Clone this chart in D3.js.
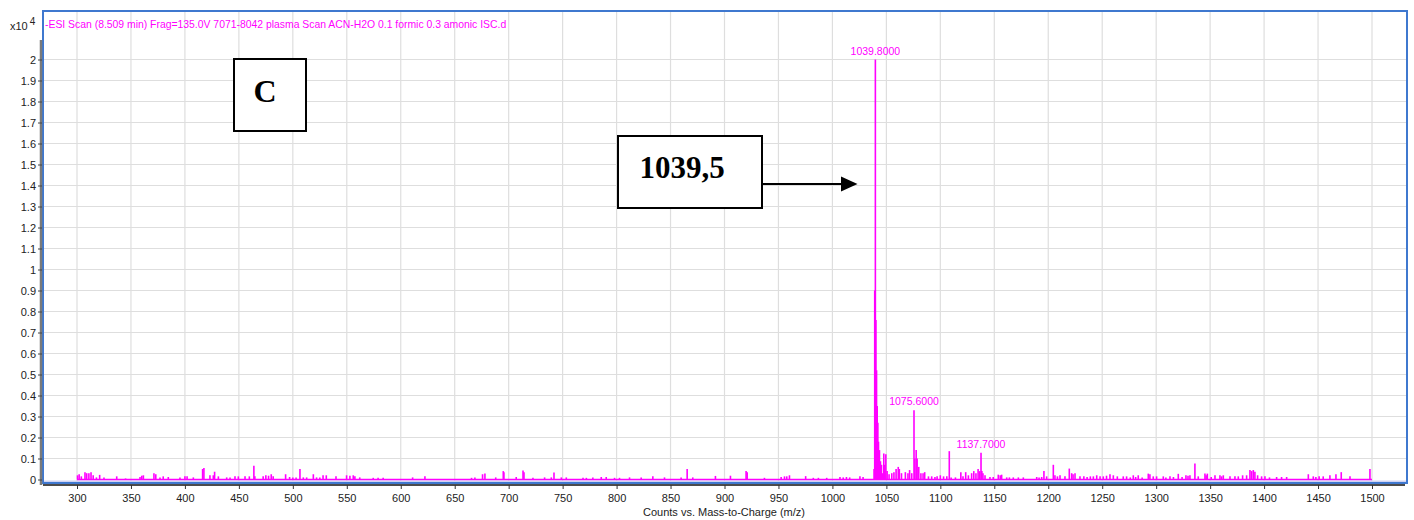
<!DOCTYPE html>
<html><head><meta charset="utf-8">
<script src="https://cdn.jsdelivr.net/npm/d3@7"></script>
<style>body{margin:0;background:#fff;overflow:hidden}</style>
</head><body>
<svg id="c" width="1414" height="520"></svg>
<script>
// ---------- data ----------
const titleText = "-ESI Scan (8.509 min) Frag=135.0V 7071-8042 plasma Scan ACN-H2O 0.1 formic 0.3 amonic ISC.d";
const xAxisTitle = "Counts vs. Mass-to-Charge (m/z)";
const xTicks = [300,350,400,450,500,550,600,650,700,750,800,850,900,950,1000,1050,1100,1150,1200,1250,1300,1350,1400,1450,1500];
const yTicks = [0,0.1,0.2,0.3,0.4,0.5,0.6,0.7,0.8,0.9,1,1.1,1.2,1.3,1.4,1.5,1.6,1.7,1.8,1.9,2];
const yTickLabels = ["0","0.1","0.2","0.3","0.4","0.5","0.6","0.7","0.8","0.9","1","1.1","1.2","1.3","1.4","1.5","1.6","1.7","1.8","1.9","2"];
// m/z and intensity (x10^4 counts)
const mz = [
 300.5,302,304,307.4,309,311,313,315,318,321,325,336.8,345,358.4,360,361.5,371.3,373,376.9,379.9,384.6,395.4,400,402,407.8,416.4,417.6,423.2,426.3,427.5,431,438.7,441.8,446.4,449.5,455.7,459.7,463.9,464.8,472.5,475,477.5,480,481.8,493.3,497,500,503,
 506.6,509.7,512.8,519,522,525,528,531,540,549.8,552.9,556,557.5,562,574.5,579,583.7,611,622.4,665.6,668.7,675.8,678,688,695,695.6,707,713.3,714.2,722.5,733.3,739.5,742,748.8,753.4,768.9,772,778,785.8,790.4,798.1,802.7,812,822.8,833.6,844.4,859.8,865.4,870.6,891.6,905.5,920,921,937,952.5,955.6,957.7,960.2,975.2,982.3,987,994.7,
 1007,1010,1013,1016,1025.5,1028.4,
 1038.6,1039.2,1039.8,1040.3,1040.9,1041.5,1042.1,1042.7,1043.6,1044.5,1045.5,1046.4,1047.6,1048.5,1049.5,1050.7,1052.5,1055,1057,1059,1061,1062,1064,1067.6,1070,1071.5,1073.5,
 1075.6,1076.4,1077.6,1078.5,1080,1082,1084,1085.5,1089,1092,1095,1097,1100,1103,1106,1108.3,1110,1114,1119,1121,1123.5,1126,1129,1131,1133,1135,1136.5,1137.7,1138.5,1139.5,1141.4,
 1146,1149,1153.7,1155.5,1156.8,1161.5,1164,1167.6,1172.3,1176.9,1189.3,1191.5,1193.9,1196,1198.5,1204.7,1206.2,1208.5,1210.9,1215.5,1219.5,1221.7,1223,1224.8,1229.4,1233,1236,1239,1241.8,1244.9,1248,1251,1254,1257.2,1260.3,1264,1269.5,1272.6,1276,1278.8,1281,1283.4,1287,1292.7,1294.2,1297.3,1300.4,1306.6,1309,1312.8,1316,1320.5,1324,1327.6,1329.5,1331.3,1335.9,1339,1345.2,1346.3,1347.4,1351,1354.5,1359.1,1360.6,1362.2,1368.4,1373,1376.1,1380.1,1383.8,1386.9,1388.4,1390,1391.5,1394,1397.7,1400.8,1405,1411.6,1416.2,1420.9,1441,1445.6,1448,1451,1454.8,1461,1466.6,1471.5,1479.6,1498.1
];
const intensity = [
 0.02,0.025,0.015,0.035,0.03,0.03,0.035,0.02,0.01,0.022,0.01,0.015,0.005,0.012,0.018,0.02,0.03,0.025,0.01,0.015,0.012,0.01,0.015,0.015,0.01,0.05,0.055,0.02,0.02,0.037,0.015,0.01,0.01,0.015,0.015,0.015,0.015,0.065,0.015,0.015,0.02,0.018,0.025,0.015,0.025,0.012,0.01,0.01,
 0.05,0.01,0.01,0.025,0.01,0.01,0.02,0.02,0.015,0.02,0.018,0.02,0.015,0.01,0.008,0.008,0.008,0.01,0.015,0.008,0.01,0.025,0.028,0.01,0.04,0.035,0.012,0.043,0.035,0.008,0.01,0.01,0.033,0.01,0.01,0.008,0.008,0.01,0.012,0.012,0.008,0.008,0.01,0.01,0.015,0.01,0.01,0.05,0.01,0.017,0.018,0.04,0.035,0.008,0.012,0.015,0.015,0.02,0.016,0.008,0.008,0.008,
 0.012,0.01,0.012,0.01,0.015,0.012,
 0.05,0.9,2.0,0.76,0.52,0.35,0.27,0.18,0.14,0.087,0.07,0.03,0.124,0.07,0.12,0.04,0.025,0.03,0.035,0.05,0.06,0.05,0.03,0.035,0.03,0.045,0.03,
 0.33,0.1,0.14,0.1,0.06,0.03,0.03,0.035,0.015,0.015,0.012,0.015,0.02,0.015,0.015,0.135,0.01,0.01,0.035,0.015,0.035,0.02,0.03,0.04,0.03,0.05,0.04,0.127,0.04,0.03,0.02,
 0.012,0.012,0.023,0.02,0.023,0.01,0.01,0.01,0.01,0.01,0.012,0.01,0.012,0.04,0.015,0.07,0.02,0.015,0.02,0.015,0.052,0.03,0.025,0.03,0.015,0.015,0.012,0.015,0.015,0.02,0.015,0.015,0.018,0.025,0.02,0.015,0.015,0.015,0.01,0.02,0.012,0.02,0.01,0.028,0.025,0.015,0.015,0.015,0.01,0.015,0.012,0.027,0.012,0.02,0.018,0.02,0.076,0.015,0.028,0.02,0.028,0.012,0.02,0.02,0.015,0.02,0.015,0.015,0.015,0.02,0.02,0.045,0.04,0.045,0.037,0.02,0.015,0.015,0.01,0.012,0.012,0.012,0.025,0.015,0.012,0.015,0.015,0.02,0.025,0.035,0.015,0.05
];
const labeledPeakMz = [1039.8, 1075.6, 1137.7];
const labeledPeakHeight = [2.0, 0.33, 0.127];
const peakLabels = ["1039.8000", "1075.6000", "1137.7000"];
const panelLetter = "C";
const arrowText = "1039,5";

// ---------- layout ----------
const svg = d3.select("#c");
const MAG = "#ff00ff";
const frame = {l: 43, t: 11, r: 1407, b: 483};
const x = d3.scaleLinear().domain([300, 1500]).range([77, 1372]);
const y = d3.scaleLinear().domain([0, 2]).range([479.5, 59.5]);

// grid
const grid = svg.append("g");
grid.selectAll("line.v").data(xTicks).join("line")
  .attr("x1", d => x(d)).attr("x2", d => x(d))
  .attr("y1", frame.t).attr("y2", frame.b)
  .attr("stroke", "#dedede").attr("stroke-width", 1.2);
grid.selectAll("line.h").data(yTicks.filter(d => d > 0)).join("line")
  .attr("x1", frame.l).attr("x2", frame.r)
  .attr("y1", d => y(d)).attr("y2", d => y(d))
  .attr("stroke", "#dedede").attr("stroke-width", 1.2);

// bottom light band
svg.append("rect").attr("x", frame.l).attr("y", 480.5).attr("width", frame.r - frame.l).attr("height", 2)
  .attr("fill", "#cfd3f2");

// spectrum baseline
svg.append("line").attr("x1", x(300)).attr("x2", x(1500)).attr("y1", y(0)).attr("y2", y(0))
  .attr("stroke", MAG).attr("stroke-width", 1.6);

// spectrum sticks
const peaks = mz.map((m, i) => ({m, v: intensity[i]}));
svg.append("g").selectAll("line").data(peaks).join("line")
  .attr("x1", d => x(d.m)).attr("x2", d => x(d.m))
  .attr("y1", y(0)).attr("y2", d => y(d.v))
  .attr("stroke", MAG).attr("stroke-width", 1.6);

// peak labels
svg.append("g").selectAll("text").data(peakLabels).join("text")
  .attr("x", (d, i) => x(labeledPeakMz[i]))
  .attr("y", (d, i) => y(labeledPeakHeight[i]) - 5)
  .attr("text-anchor", "middle")
  .attr("font-family", "Liberation Sans, Arial, sans-serif")
  .attr("font-size", 10.5).attr("fill", MAG).text(d => d);

// frame
svg.append("rect").attr("x", frame.l).attr("y", frame.t)
  .attr("width", frame.r - frame.l).attr("height", frame.b - frame.t)
  .attr("fill", "none").attr("stroke", "#3f78cf").attr("stroke-width", 2);

// title
svg.append("text").attr("x", 45).attr("y", 28)
  .attr("font-family", "Liberation Sans, Arial, sans-serif")
  .attr("font-size", 10.4).attr("fill", MAG).text(titleText);

// x10^4
const mult = svg.append("text").attr("x", 10).attr("y", 30)
  .attr("font-family", "Liberation Sans, Arial, sans-serif").attr("font-size", 11).attr("fill", "#222");
mult.append("tspan").text("x10");
mult.append("tspan").attr("dx", 2).attr("dy", -5).attr("font-size", 10).text("4");

// y axis
svg.append("line").attr("x1", 41).attr("x2", 41).attr("y1", 40).attr("y2", 485)
  .attr("stroke", "#7a7a7a").attr("stroke-width", 2.5);
const yAxis = svg.append("g").attr("transform", "translate(42,0)")
  .call(d3.axisLeft(y).tickValues(yTicks).tickFormat((d, i) => yTickLabels[i]).tickSize(4).tickPadding(2));
yAxis.select(".domain").remove();
yAxis.selectAll("text").attr("font-family", "Liberation Sans, Arial, sans-serif").attr("font-size", 11).attr("fill", "#222");
yAxis.selectAll("line").attr("stroke", "#444");

// x axis
svg.append("line").attr("x1", frame.l).attr("x2", 1405).attr("y1", 485).attr("y2", 485)
  .attr("stroke", "#111").attr("stroke-width", 1.5);
const xAxis = svg.append("g").attr("transform", "translate(0,485)")
  .call(d3.axisBottom(x).tickValues(xTicks).tickFormat(d3.format("d")).tickSize(4).tickPadding(5));
xAxis.select(".domain").remove();
xAxis.selectAll("text").attr("font-family", "Liberation Sans, Arial, sans-serif").attr("font-size", 11).attr("fill", "#222");
xAxis.selectAll("line").attr("stroke", "#333");

svg.append("text").attr("x", 724).attr("y", 516).attr("text-anchor", "middle")
  .attr("font-family", "Liberation Sans, Arial, sans-serif").attr("font-size", 11).attr("fill", "#222")
  .text(xAxisTitle);

// annotation boxes
svg.append("rect").attr("x", 234).attr("y", 59).attr("width", 72).attr("height", 72)
  .attr("fill", "#fff").attr("stroke", "#000").attr("stroke-width", 2);
svg.append("text").attr("x", 265).attr("y", 101.5).attr("text-anchor", "middle")
  .attr("font-family", "Liberation Serif, Times New Roman, serif").attr("font-weight", "bold")
  .attr("font-size", 32).attr("fill", "#000").text(panelLetter);

svg.append("rect").attr("x", 618).attr("y", 136).attr("width", 144).attr("height", 72)
  .attr("fill", "#fff").attr("stroke", "#000").attr("stroke-width", 2);
svg.append("text").attr("x", 639.5).attr("y", 177.5)
  .attr("font-family", "Liberation Serif, Times New Roman, serif").attr("font-weight", "bold")
  .attr("font-size", 31).attr("fill", "#000").text(arrowText);

// arrow
svg.append("line").attr("x1", 762).attr("x2", 843).attr("y1", 184).attr("y2", 184)
  .attr("stroke", "#000").attr("stroke-width", 2);
svg.append("path").attr("d", "M841,176.5 L857.5,184 L841,191.5 Z").attr("fill", "#000");
</script>
</body></html>
